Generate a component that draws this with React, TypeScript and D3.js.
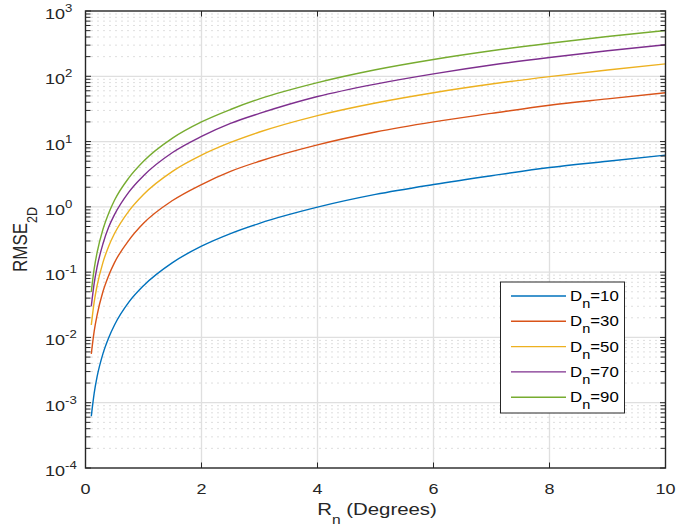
import React from "react";
import * as d3 from "d3";

const xs = [0.1, 0.15, 0.2, 0.3, 0.4, 0.5, 0.75, 1, 1.5, 2, 2.5, 3, 4, 5, 6, 7, 8, 9, 10];
const d10 = [6.2e-4, 1.4e-3, 2.5e-3, 5.6e-3, 9.9e-3, 1.55e-2, 3.5e-2, 6.2e-2, 0.14, 0.25, 0.39, 0.56, 0.99, 1.55, 2.2, 3.0, 4.0, 5.0, 6.2];
const d30 = [5.6e-3, 1.25e-2, 0.022, 0.05, 0.089, 0.14, 0.31, 0.56, 1.25, 2.2, 3.5, 5.0, 8.9, 14, 20, 27, 36, 45, 56];
const d50 = [0.0155, 0.035, 0.062, 0.14, 0.25, 0.39, 0.87, 1.55, 3.5, 6.2, 9.7, 14, 25, 39, 56, 76, 99, 125, 155];
const d70 = [0.030, 0.068, 0.12, 0.27, 0.49, 0.76, 1.7, 3.0, 6.8, 12, 19, 27, 49, 76, 109, 149, 194, 246, 304];
const d90 = [0.050, 0.113, 0.20, 0.45, 0.80, 1.26, 2.8, 5.0, 11.3, 20, 31, 45, 80, 126, 181, 246, 321, 407, 502];
const seriesNames = ["10", "30", "50", "70", "90"];
const seriesData = [d10, d30, d50, d70, d90];
const colors = ["#0072BD", "#D95319", "#EDB120", "#7E2F8E", "#77AC30"];
const xTicks = [0, 2, 4, 6, 8, 10];
const yExps = [-4, -3, -2, -1, 0, 1, 2, 3];

const W = 676, H = 529;
const L = 85.5, R = 665.5, T = 11, B = 468;
const font = "'Liberation Sans', Arial, Helvetica, sans-serif";
const axisColor = "#262626";
const SX = 1.2;

export default function App() {
  const x = d3.scaleLinear().domain([0, 10]).range([L, R]);
  const y = d3.scaleLog().domain([1e-4, 1e3]).range([B, T]);
  const line = d3
    .line<[number, number]>()
    .x((d) => x(d[0]))
    .y((d) => y(d[1]))
    .curve(d3.curveMonotoneX);

  const minors: number[] = [];
  for (let e = -4; e < 3; e++) for (let k = 2; k <= 9; k++) minors.push(k * Math.pow(10, e));

  return (
    <svg width={W} height={H} style={{ position: "absolute", left: 0, top: 0, background: "#fff" }}>
      <rect x={L} y={T} width={R - L} height={B - T} fill="#fff" />
      {/* minor grid */}
      {minors.map((v, i) => (
        <line key={"mg" + i} x1={L} x2={R} y1={y(v)} y2={y(v)} stroke="#bdbdbd" strokeWidth={1} strokeDasharray="1,5" />
      ))}
      {/* major grid */}
      {yExps.slice(1, -1).map((e) => (
        <line key={"yg" + e} x1={L} x2={R} y1={y(Math.pow(10, e))} y2={y(Math.pow(10, e))} stroke="#dfdfdf" strokeWidth={1.3} />
      ))}
      {xTicks.slice(1, -1).map((t) => (
        <line key={"xg" + t} x1={x(t)} x2={x(t)} y1={T} y2={B} stroke="#dfdfdf" strokeWidth={1.3} />
      ))}
      {/* series */}
      {seriesData.map((s, i) => (
        <path
          key={"s" + i}
          d={line(xs.map((xv, j) => [xv, s[j]] as [number, number])) || ""}
          fill="none"
          stroke={colors[i]}
          strokeWidth={1.4}
        />
      ))}
      {/* ticks */}
      {xTicks.map((t) => (
        <g key={"xt" + t}>
          <line x1={x(t)} x2={x(t)} y1={B} y2={B - 5.5} stroke={axisColor} strokeWidth={1} />
          <line x1={x(t)} x2={x(t)} y1={T} y2={T + 5.5} stroke={axisColor} strokeWidth={1} />
          <g transform={`translate(${x(t)},${B + 25.5}) scale(${SX},1)`}>
            <text x={0} y={0} textAnchor="middle" fontFamily={font} fontSize={15} fill={axisColor}>
              {t}
            </text>
          </g>
        </g>
      ))}
      {yExps.map((e) => (
        <g key={"yt" + e}>
          <line x1={L} x2={L + 5.5} y1={y(Math.pow(10, e))} y2={y(Math.pow(10, e))} stroke={axisColor} strokeWidth={1} />
          <line x1={R} x2={R - 5.5} y1={y(Math.pow(10, e))} y2={y(Math.pow(10, e))} stroke={axisColor} strokeWidth={1} />
          <g transform={`translate(45,${y(Math.pow(10, e)) + 8}) scale(${SX},1)`}>
            <text x={0} y={0} fontFamily={font} fontSize={15} fill={axisColor}>
              10<tspan dy={-7} fontSize={11}>{e}</tspan>
            </text>
          </g>
        </g>
      ))}
      {minors.map((v, i) => (
        <g key={"mt" + i}>
          <line x1={L} x2={L + 5} y1={y(v)} y2={y(v)} stroke={axisColor} strokeWidth={1} />
          <line x1={R} x2={R - 5} y1={y(v)} y2={y(v)} stroke={axisColor} strokeWidth={1} />
        </g>
      ))}
      {/* box */}
      <rect x={L} y={T} width={R - L} height={B - T} fill="none" stroke={axisColor} strokeWidth={1.4} />
      {/* axis labels */}
      <g transform={`translate(377,515) scale(${SX},1)`}>
        <text x={0} y={0} textAnchor="middle" fontFamily={font} fontSize={17} fill={axisColor}>
          R<tspan dy={9} fontSize={13}>n</tspan>
          <tspan dy={-9}> (Degrees)</tspan>
        </text>
      </g>
      <g transform={`translate(27,${(T + B) / 2}) scale(${SX},1) rotate(-90)`}>
        <text x={0} y={0} textAnchor="middle" fontFamily={font} fontSize={17} fill={axisColor}>
          RMSE<tspan dy={8} fontSize={12.5}>2D</tspan>
        </text>
      </g>
      {/* legend */}
      <rect x={500.5} y={282} width={124} height={131} fill="#fff" stroke={axisColor} strokeWidth={1} />
      {seriesNames.map((n, i) => {
        const ly = 296 + i * 25.3;
        return (
          <g key={"lg" + i}>
            <line x1={511} x2={566} y1={ly} y2={ly} stroke={colors[i]} strokeWidth={1.4} />
            <g transform={`translate(570,${ly + 5}) scale(1.12,1)`}>
              <text x={0} y={0} fontFamily={font} fontSize={15} fill="#000">
                D<tspan dy={7} fontSize={13}>n</tspan>
                <tspan dy={-7}>={n}</tspan>
              </text>
            </g>
          </g>
        );
      })}
    </svg>
  );
}
